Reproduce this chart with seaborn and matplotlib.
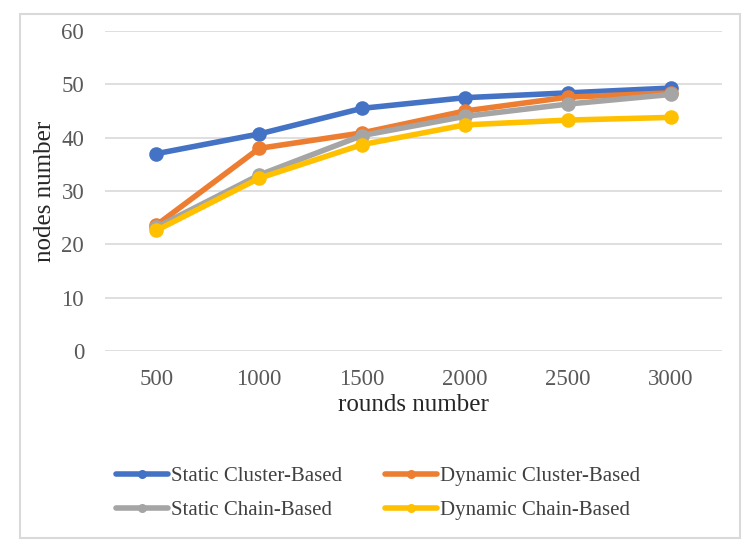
import matplotlib
matplotlib.use("Agg")
import matplotlib.pyplot as plt
import pandas as pd
import seaborn as sns
from matplotlib.patches import Rectangle

rounds = [500, 1000, 1500, 2000, 2500, 3000]
static_cluster = [37.0, 40.7, 45.5, 47.5, 48.4, 49.3]
dynamic_cluster = [23.6, 38.0, 40.9, 45.0, 47.6, 48.4]
static_chain = [23.2, 33.0, 40.4, 44.0, 46.3, 48.1]
dynamic_chain = [22.6, 32.4, 38.7, 42.4, 43.3, 43.8]

series_names = ["Static Cluster-Based", "Dynamic Cluster-Based",
                "Static Chain-Based", "Dynamic Chain-Based"]
colors = ["#4472C4", "#ED7D31", "#A5A5A5", "#FFC000"]

df = pd.DataFrame({
    "rounds": rounds * 4,
    "nodes": static_cluster + dynamic_cluster + static_chain + dynamic_chain,
    "series": [n for n in series_names for _ in rounds],
})

sns.set_style("white")
plt.rcParams["font.family"] = ["Liberation Serif", "DejaVu Serif"]

fig = plt.figure(figsize=(7.53, 5.55), dpi=100)
ax = fig.add_axes([0.1394, 0.3676, 0.8194, 0.5765])

sns.lineplot(data=df, x="rounds", y="nodes", hue="series", hue_order=series_names,
             palette=colors, marker="o", markersize=10.5, markeredgewidth=0,
             linewidth=4, ax=ax, legend=False)

ax.set_xlim(250, 3250)
ax.set_ylim(0, 60)
ax.set_xticks(rounds)
ax.set_yticks(range(0, 61, 10))
ax.yaxis.grid(True, color="#D9D9D9", linewidth=1.2)
ax.set_axisbelow(True)
for s in ax.spines.values():
    s.set_visible(False)
ax.tick_params(axis="both", length=0, labelsize=16.5, colors="#595959")
ax.tick_params(axis="x", pad=13)
ax.tick_params(axis="y", pad=15)
ax.set_xlabel("rounds number", fontsize=18)
ax.xaxis.set_label_coords(0.5, -0.135)
ax.set_ylabel("nodes number", fontsize=18, labelpad=4)

# legend in two rows below the plot
handles = [plt.Line2D([], [], color=c, linewidth=4, marker="o", markersize=6.5,
                      markeredgewidth=0) for c in colors]
order = [0, 2, 1, 3]
fig.legend([handles[i] for i in order], [series_names[i] for i in order],
           loc="center", bbox_to_anchor=(0.502, 0.111), ncol=2, frameon=False,
           fontsize=15, handlelength=2.5, handletextpad=0.1, columnspacing=2.1,
           labelspacing=0.72, labelcolor="#404040")

fig.patches.append(Rectangle((20 / 753, 1 - 538 / 555), 720 / 753, 524 / 555,
                             transform=fig.transFigure, fill=False,
                             edgecolor="#D9D9D9", linewidth=1.5))

fig.savefig("out.png", dpi=100, facecolor="white")
